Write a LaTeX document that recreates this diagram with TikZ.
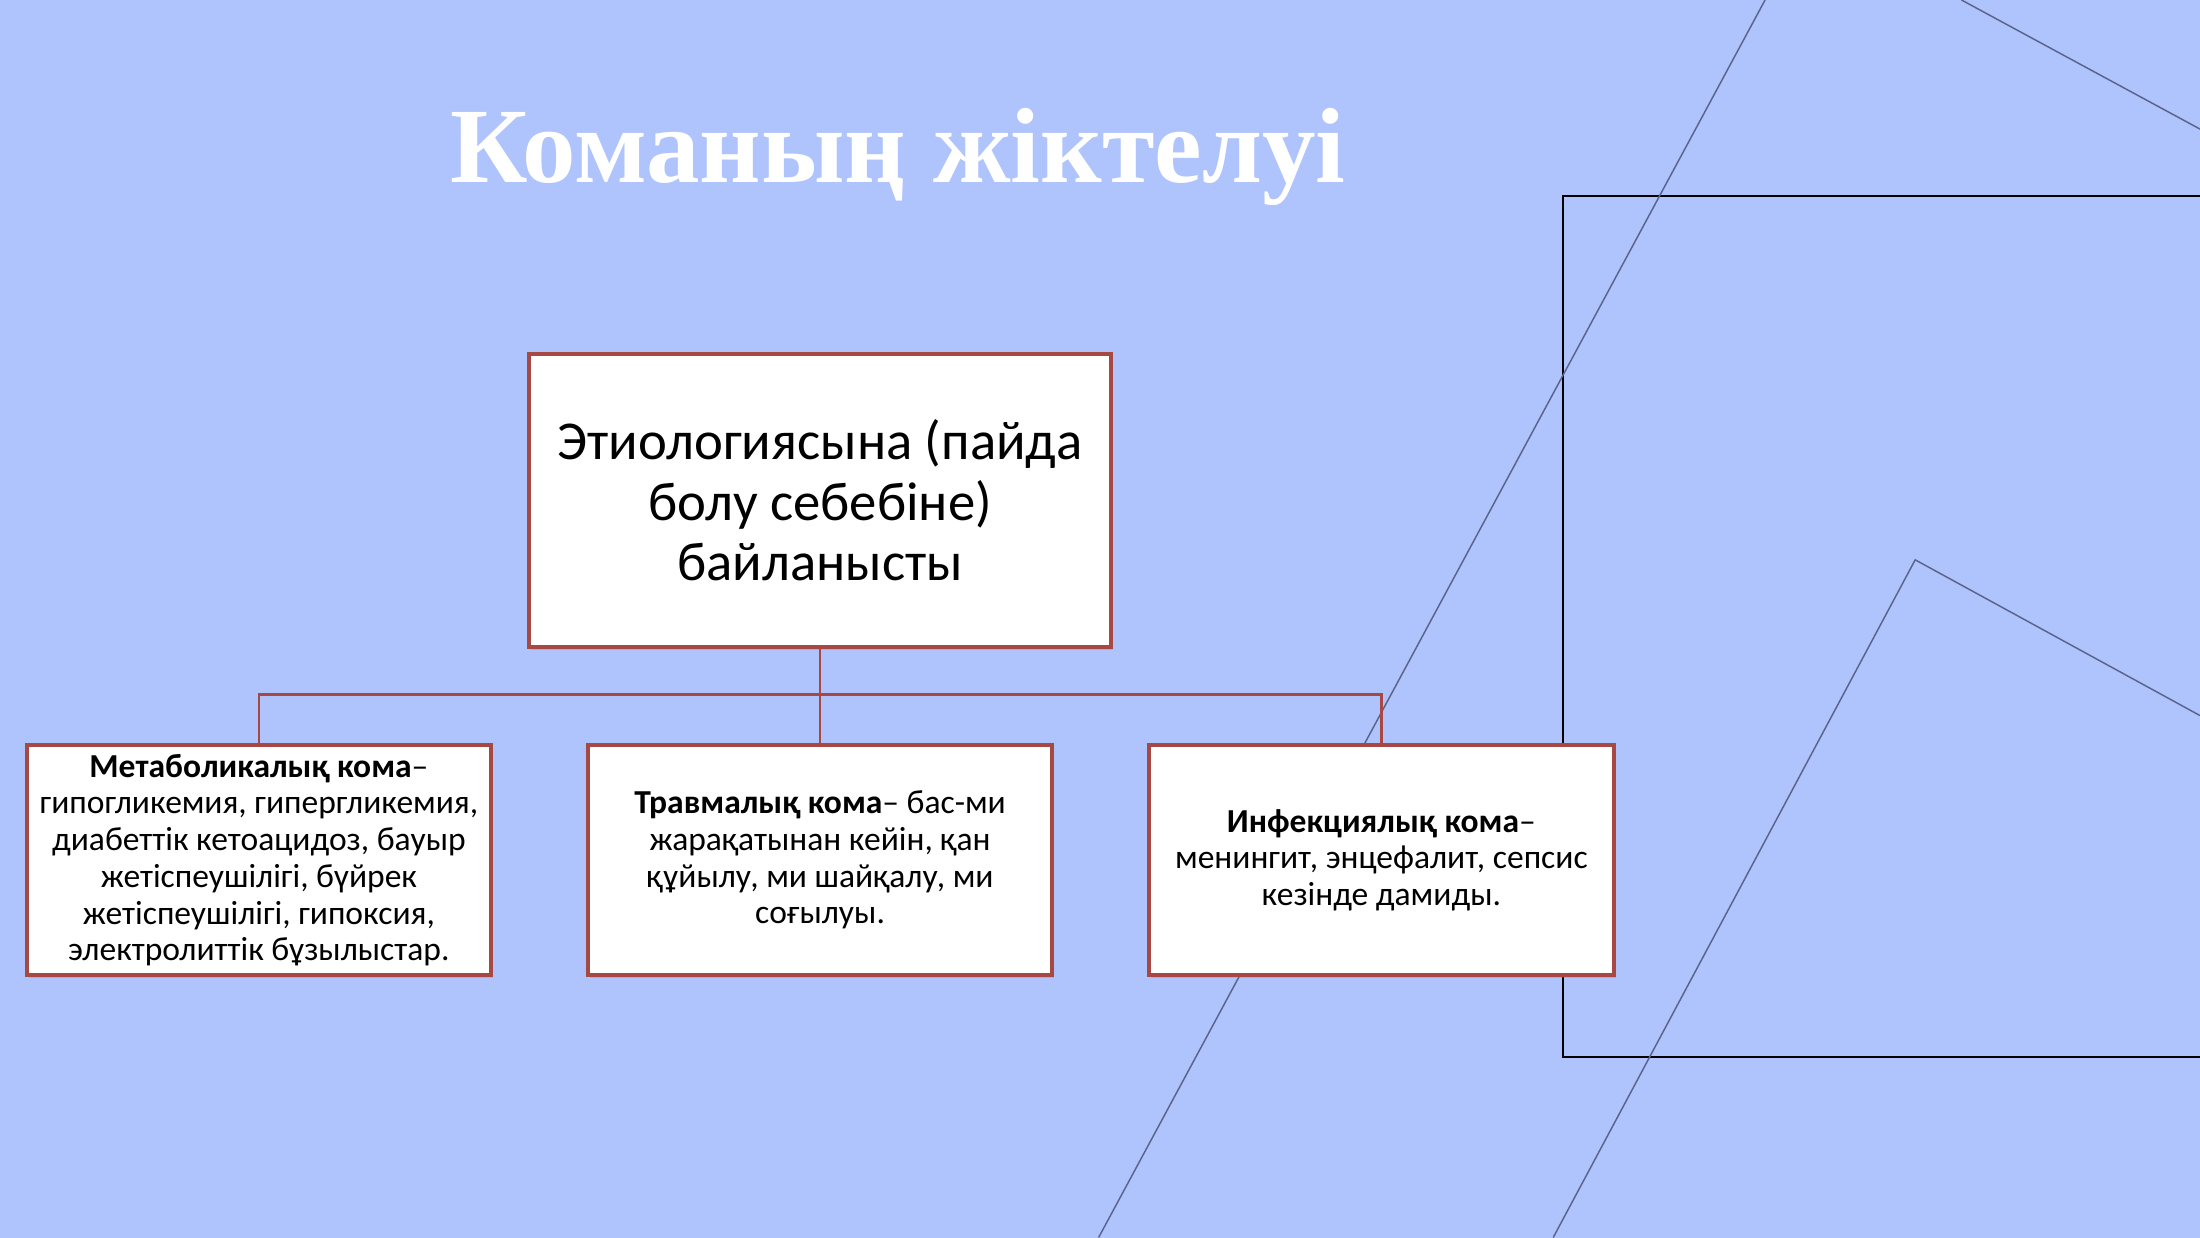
\documentclass[tikz,border=0pt]{standalone}
\usepackage{fontspec}
\setmainfont{Carlito}
\newfontfamily\titlefont{Liberation Serif}
\usepackage{tikz}
\usetikzlibrary{shadows}
\definecolor{slidebg}{RGB}{175,195,253}
\definecolor{boxred}{RGB}{168,72,67}
\definecolor{thingray}{RGB}{90,100,140}
\tikzstyle{bigbox}=[draw=boxred,fill=white,line width=.8pt,align=center,
  minimum width=4.15cm,minimum height=2.09cm,inner sep=0pt,
  drop shadow={opacity=.25,shadow xshift=.4pt,shadow yshift=-.6pt},
  font=\fontsize{11.1}{12.2}\selectfont]
\tikzstyle{smallbox}=[draw=boxred,fill=white,line width=.8pt,align=center,
  minimum width=3.31cm,minimum height=1.64cm,inner sep=0pt,
  drop shadow={opacity=.25,shadow xshift=.4pt,shadow yshift=-.6pt},
  font=\fontsize{6.8}{7.45}\selectfont]
\tikzstyle{conn}=[draw=boxred,line width=.5pt]

\begin{document}
\begin{tikzpicture}
  \fill[slidebg] (0,0) rectangle (15.68,8.82);
  \useasboundingbox (0,0) rectangle (15.68,8.82);

  % background lines
  \draw[line width=.4pt] (15.68,7.42) -- (11.14,7.42) -- (11.14,1.29) -- (15.68,1.29);
  \draw[thingray,line width=.3pt] (12.58,8.82) -- (7.83,0);
  \draw[thingray,line width=.3pt] (13.98,8.82) -- (15.68,7.90);
  \draw[thingray,line width=.3pt] (15.68,3.72) -- (13.65,4.83) -- (11.07,0);

  \node[white,font=\titlefont\bfseries\fontsize{21.7}{24}\selectfont,anchor=base] (title) at (6.40,7.52) {Команың жіктелуі};

  \node[bigbox] (K) at (5.845,5.255) {Этиологиясына (пайда\\ болу себебіне)\\ байланысты};

  \node[smallbox] (k1) at (1.845,2.69) {\textbf{Метаболикалық кома}–\\ гипогликемия, гипергликемия,\\ диабеттік кетоацидоз, бауыр\\ жетіспеушілігі, бүйрек\\ жетіспеушілігі, гипоксия,\\ электролиттік бұзылыстар.};
  \node[smallbox] (k2) at (5.845,2.69) {\textbf{Травмалық кома}– бас-ми\\ жарақатынан кейін, қан\\ құйылу, ми шайқалу, ми\\ соғылуы.};
  \node[smallbox] (k3) at (9.845,2.69) {\textbf{Инфекциялық кома}–\\ менингит, энцефалит, сепсис\\ кезінде дамиды.};

  \coordinate (bus) at (5.845,3.87);
  \draw[conn] (K.south) -- (k2.north);
  \foreach \i in {1,3}{
    \draw[conn] (k\i.north) |- (bus);
  }
\end{tikzpicture}
\end{document}
